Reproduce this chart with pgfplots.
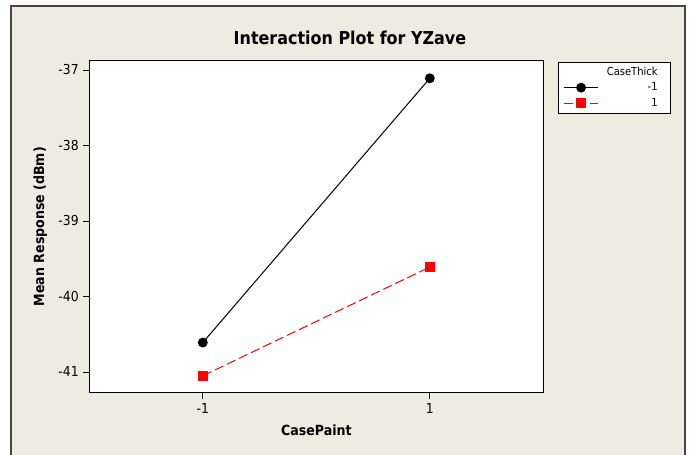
\documentclass[border=0pt]{standalone}
\usepackage{pgfplots}
\pgfplotsset{compat=1.18}
\usepackage{fontspec}
\setmainfont{DejaVu Sans Condensed}
\definecolor{bgbeige}{RGB}{238,235,224}
\definecolor{framegray}{RGB}{70,70,70}
\begin{document}
\begin{tikzpicture}
\useasboundingbox (0pt,0pt) rectangle (518.25pt,-340.5pt);
\fill[white] (0pt,0pt) rectangle (518.25pt,-340.5pt);
\fill[bgbeige] (8.25pt,-4.5pt) rectangle (513.75pt,-345pt);
\draw[framegray,line width=1.3pt] (8.25pt,-345pt) -- (8.25pt,-4.5pt) -- (513.75pt,-4.5pt) -- (513.75pt,-345pt);
\node[font=\bfseries\fontsize{13.3}{15}\selectfont, anchor=center] at (262.5pt,-28.5pt) {Interaction Plot for YZave};
\begin{axis}[
  at={(67pt,-45.5pt)}, anchor=north west,
  scale only axis, width=340.5pt, height=249pt,
  xmin=-2, xmax=2, ymin=-41.274, ymax=-36.877,
  xtick={-1,1}, ytick={-41,-40,-39,-38,-37},
  axis background/.style={fill=white},
  axis line style={line width=0.8pt},
  tick align=outside, xtick pos=left, ytick pos=left,
  major tick length=4.5pt,
  tick style={black, line width=0.6pt},
  /pgf/number format/assume math mode=true,
  ticklabel style={font=\fontsize{10.3}{12}\selectfont},
  xlabel={CasePaint}, ylabel={Mean Response (dBm)},
  every axis x label/.style={at={(axis description cs:0.5,-0.112)}, anchor=center, font=\bfseries\fontsize{10.5}{12}\selectfont},
  every axis y label/.style={at={(axis description cs:-0.108,0.5)}, anchor=center, rotate=90, font=\bfseries\fontsize{10.5}{12}\selectfont},
  legend style={at={(rel axis cs:1.032,0.996)}, anchor=north west, draw=black, line width=0.6pt, fill=white,
    inner xsep=3.75pt, inner ysep=1.7pt, row sep=0pt,
    nodes={inner sep=0pt, minimum height=11.5pt, font=\fontsize{8.3}{10}\selectfont}},
  legend cell align=right,
  legend image code/.code={\draw[mark repeat=2,mark phase=2] plot coordinates {(0pt,0pt) (13pt,0pt) (26pt,0pt)};},
]
\addlegendimage{empty legend}
\addlegendentry{\makebox[50pt][r]{CaseThick\hspace{6pt}}}
\addplot[black, line width=0.75pt, mark=*, mark size=3.3pt, mark options={solid}] coordinates {(-1,-40.61) (1,-37.11)};
\addlegendentry{\makebox[50pt][r]{-1\hspace{6pt}}}
\addplot[red, line width=0.75pt, dash pattern=on 7pt off 3pt, mark=square*, mark size=3.2pt, mark options={solid}] coordinates {(-1,-41.05) (1,-39.61)};
\addlegendentry{\makebox[50pt][r]{1\hspace{6pt}}}
\end{axis}
\end{tikzpicture}
\end{document}
